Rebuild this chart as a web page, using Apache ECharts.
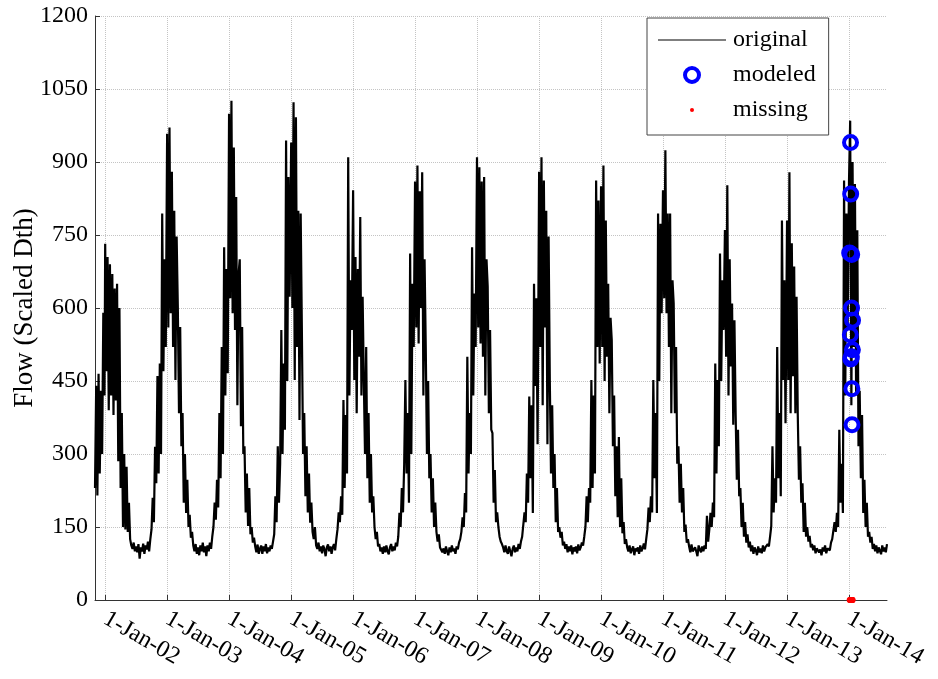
<!DOCTYPE html>
<html>
<head>
<meta charset="utf-8">
<script src="https://cdn.jsdelivr.net/npm/echarts@6/dist/echarts.min.js"></script>
<style>
  html, body { margin: 0; padding: 0; background: #fff; }
  #chart { width: 938px; height: 679px; }
</style>
</head>
<body>
<div id="chart"></div>
<script>
// weekly samples of the daily flow (high / low days of each week)
// 2001 starts on 2-Nov-2001, every other year starts on 1-Jan
var flow2001 = [230, 440, 215, 465, 260, 430, 300, 590, 420];
var flow2002 = [732, 470, 705, 390, 690, 420, 670, 380, 640, 410, 650, 285, 600, 230, 384, 150, 300, 145, 274, 140, 200, 125, 112, 105, 118, 100, 110, 98, 115, 85, 108, 100, 116, 95, 112, 104, 120, 100, 125, 145, 210, 160, 315, 240, 460, 260, 486, 300, 794, 470, 700, 520];
var flow2003 = [958, 560, 971, 589, 880, 520, 800, 452, 747, 602, 384, 561, 316, 384, 200, 300, 179, 247, 150, 175, 128, 140, 112, 100, 115, 95, 108, 92, 112, 100, 118, 98, 110, 90, 112, 100, 118, 105, 130, 150, 200, 165, 247, 190, 384, 250, 520, 300, 725, 420, 680, 466];
var flow2004 = [999, 620, 1026, 589, 930, 555, 828, 400, 670, 700, 357, 561, 300, 316, 180, 260, 152, 230, 135, 150, 118, 128, 110, 98, 114, 95, 105, 112, 95, 110, 100, 115, 96, 108, 100, 112, 105, 120, 135, 213, 160, 316, 200, 280, 555, 300, 486, 350, 944, 450, 869, 623];
var flow2005 = [940, 600, 1023, 452, 992, 520, 800, 370, 794, 555, 300, 384, 213, 316, 180, 260, 159, 200, 140, 125, 150, 112, 105, 118, 100, 110, 96, 112, 104, 90, 108, 114, 100, 110, 95, 108, 115, 102, 125, 145, 180, 160, 213, 175, 411, 230, 380, 260, 910, 420, 657, 555];
var flow2006 = [842, 452, 705, 384, 680, 500, 787, 420, 623, 452, 300, 520, 250, 384, 200, 300, 180, 213, 150, 125, 140, 110, 115, 100, 108, 95, 110, 98, 112, 100, 94, 108, 115, 100, 110, 102, 118, 110, 130, 179, 150, 230, 180, 280, 452, 260, 384, 200, 712, 300, 650, 520];
var flow2007 = [860, 560, 893, 527, 840, 600, 879, 420, 700, 520, 300, 450, 250, 300, 180, 250, 150, 200, 140, 120, 135, 108, 112, 98, 106, 95, 110, 100, 92, 108, 98, 112, 100, 106, 95, 110, 104, 118, 125, 140, 170, 150, 220, 180, 500, 260, 384, 300, 725, 420, 630, 520];
var flow2008 = [910, 560, 889, 527, 860, 500, 869, 420, 700, 644, 384, 555, 350, 343, 200, 267, 160, 180, 150, 130, 120, 115, 108, 98, 112, 100, 95, 110, 100, 90, 105, 112, 98, 108, 100, 115, 105, 120, 130, 130, 180, 160, 260, 200, 418, 250, 400, 179, 650, 440, 620, 320];
var flow2009 = [880, 520, 910, 400, 862, 560, 800, 320, 747, 452, 260, 400, 230, 300, 160, 230, 140, 150, 128, 140, 112, 120, 105, 115, 98, 110, 100, 112, 94, 108, 100, 110, 96, 114, 102, 108, 118, 112, 130, 150, 213, 160, 230, 200, 452, 230, 420, 260, 862, 520, 821, 486];
var flow2010 = [850, 520, 893, 450, 780, 500, 650, 384, 580, 534, 316, 420, 213, 316, 170, 335, 150, 250, 137, 160, 115, 125, 108, 100, 112, 96, 104, 110, 92, 106, 100, 108, 95, 112, 100, 106, 116, 104, 125, 145, 190, 160, 213, 180, 452, 250, 384, 179, 794, 450, 773, 589];
var flow2011 = [842, 620, 924, 589, 794, 520, 794, 384, 657, 609, 384, 520, 280, 316, 200, 280, 180, 230, 140, 155, 118, 125, 110, 98, 114, 100, 96, 108, 100, 90, 112, 104, 98, 110, 100, 112, 105, 173, 120, 145, 179, 150, 200, 170, 486, 260, 452, 316, 712, 450, 657, 555];
var flow2012 = [760, 500, 852, 420, 700, 480, 609, 360, 575, 384, 247, 350, 213, 230, 150, 200, 130, 160, 118, 135, 108, 120, 100, 112, 95, 108, 102, 92, 110, 98, 106, 96, 112, 100, 108, 105, 115, 110, 130, 152, 316, 180, 250, 200, 520, 250, 384, 213, 780, 452, 657, 363];
var flow2013 = [780, 452, 879, 384, 733, 460, 685, 384, 623, 384, 247, 316, 200, 240, 140, 200, 130, 150, 120, 132, 108, 115, 102, 112, 96, 106, 110, 98, 104, 92, 108, 100, 112, 96, 106, 110, 102, 118, 125, 125, 160, 140, 179, 150, 350, 200, 280, 179, 862, 420, 794, 555];
var flow2014 = [860, 985, 400, 900, 520, 855, 420, 760, 316, 430, 250, 380, 179, 247, 150, 200, 130, 140, 118, 130, 105, 115, 100, 112, 96, 108, 104, 94, 112, 100, 108, 98, 115];

var modeledDates = ['2014-01-05', '2014-01-09', '2014-01-10', '2014-01-11', '2014-01-12', '2014-01-15', '2014-01-16', '2014-01-17', '2014-01-18', '2014-01-19', '2014-01-21', '2014-01-22'];
var modeledValues = [713, 545, 940, 834, 495, 500, 600, 710, 434, 360, 514, 575];
var missingValues = [0, 0, 0, 0, 0, 0, 0, 0, 0, 0, 0, 0];

var tickDates = ['2002-01-01', '2003-01-01', '2004-01-01', '2005-01-01', '2006-01-01', '2007-01-01', '2008-01-01', '2009-01-01', '2010-01-01', '2011-01-01', '2012-01-01', '2013-01-01', '2014-01-01'];
var tickLabels = ['1-Jan-02', '1-Jan-03', '1-Jan-04', '1-Jan-05', '1-Jan-06', '1-Jan-07', '1-Jan-08', '1-Jan-09', '1-Jan-10', '1-Jan-11', '1-Jan-12', '1-Jan-13', '1-Jan-14'];

var FONT = 'Liberation Serif';

function weekly(year, month, day, values) {
  return values.map(function (v, i) {
    return [Date.UTC(year, month, day + 7 * i), v];
  });
}

var original = weekly(2001, 10, 2, flow2001);
var years = [flow2002, flow2003, flow2004, flow2005, flow2006, flow2007, flow2008,
             flow2009, flow2010, flow2011, flow2012, flow2013, flow2014];
years.forEach(function (vals, k) {
  original = original.concat(weekly(2002 + k, 0, 1, vals));
});

var modeled = modeledDates.map(function (d, i) { return [Date.parse(d), modeledValues[i]]; });
var missing = modeledDates.map(function (d, i) { return [Date.parse(d), missingValues[i]]; });
var tickValues = tickDates.map(function (d) { return Date.parse(d); });

var myChart = echarts.init(document.getElementById('chart'));

var option = {
  animation: false,
  backgroundColor: '#fff',
  grid: { left: 95, right: 51, top: 16, bottom: 79, outerBoundsMode: 'none', containLabel: false },
  legend: {
    orient: 'vertical',
    left: 647,
    top: 18,
    padding: [10, 13, 13, 11],
    itemWidth: 68,
    itemHeight: 14,
    itemGap: 11,
    backgroundColor: '#fff',
    borderColor: '#444',
    borderWidth: 1,
    textStyle: { fontFamily: FONT, fontSize: 24, color: '#000', padding: [0, 0, 0, 2] },
    itemStyle: { borderWidth: 'inherit' },
    data: [
      { name: 'original', icon: 'path://M0,0M68,14M0,6.5h68v1h-68z', itemStyle: { color: '#000' } },
      { name: 'modeled' },
      { name: 'missing', icon: 'path://M0,0M14,14M5,7a2,2 0 1,0 4,0a2,2 0 1,0 -4,0z' }
    ]
  },
  xAxis: {
    type: 'value',
    min: original[0][0],
    max: original[original.length - 1][0],
    axisLine: { lineStyle: { color: '#333', width: 1 } },
    axisTick: { inside: true, length: 5, customValues: tickValues, lineStyle: { color: '#333' } },
    axisLabel: {
      customValues: tickValues,
      rotate: -30,
      margin: 17,
      fontFamily: FONT,
      fontSize: 24,
      color: '#000',
      formatter: function (v) {
        var i = tickValues.indexOf(v);
        return i >= 0 ? tickLabels[i] : '';
      }
    },
    splitLine: { show: true, lineStyle: { color: '#c4c4c4', type: 'dotted', width: 1 } }
  },
  yAxis: {
    type: 'value',
    min: 0,
    max: 1200,
    interval: 150,
    name: 'Flow (Scaled Dth)',
    nameLocation: 'middle',
    nameGap: 57,
    nameMoveOverlap: false,
    nameTextStyle: { fontFamily: FONT, fontSize: 27, color: '#000' },
    axisLine: { show: true, lineStyle: { color: '#333', width: 1 } },
    axisTick: { show: true, inside: true, length: 5, lineStyle: { color: '#333' } },
    axisLabel: {
      fontFamily: FONT, fontSize: 24, color: '#000', margin: 7,
      formatter: function (v) { return String(v); }
    },
    splitLine: { show: true, lineStyle: { color: '#c4c4c4', type: 'dotted', width: 1 } }
  },
  series: [
    {
      name: 'original',
      type: 'line',
      data: original,
      symbol: 'none',
      color: '#000',
      lineStyle: { color: '#000', width: 2.2 }
    },
    {
      name: 'modeled',
      type: 'scatter',
      data: modeled,
      symbol: 'circle',
      symbolSize: 13,
      color: '#0000ff',
      itemStyle: { color: 'rgba(0,0,0,0)', borderColor: '#0000ff', borderWidth: 4, opacity: 1 },
      z: 3
    },
    {
      name: 'missing',
      type: 'scatter',
      data: missing,
      symbol: 'circle',
      symbolSize: 6,
      color: '#ff0000',
      itemStyle: { color: '#ff0000', opacity: 1 },
      clip: false,
      z: 4
    }
  ]
};

myChart.setOption(option);

window.addEventListener('resize', function () {
  myChart.resize();
});
</script>
</body>
</html>
